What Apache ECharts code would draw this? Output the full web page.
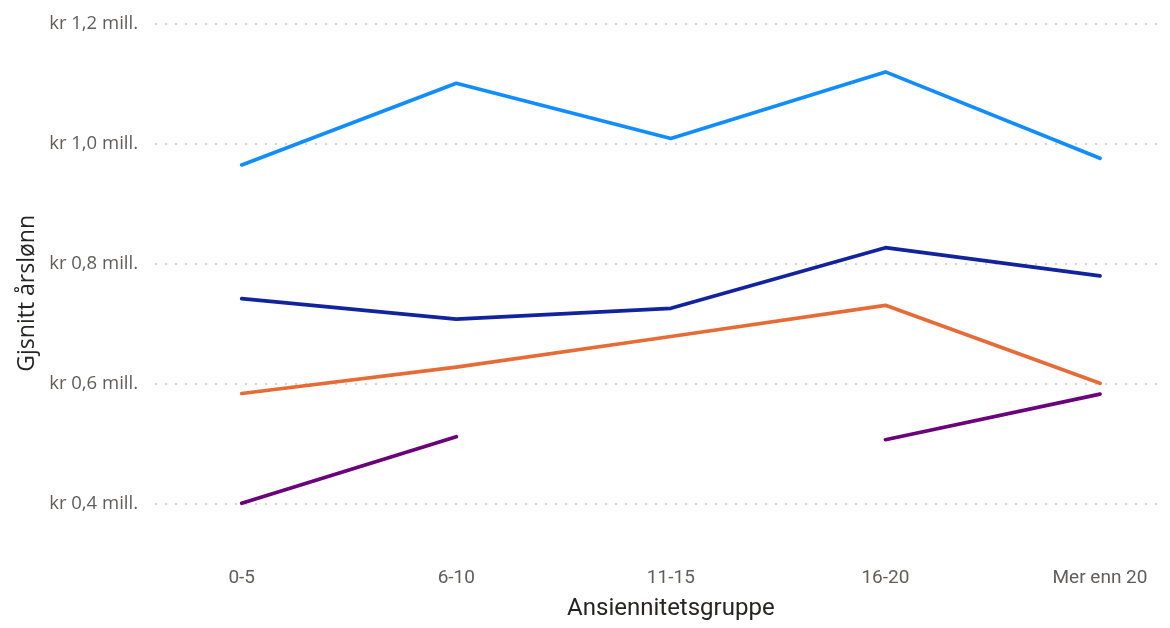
<!DOCTYPE html>
<html>
<head>
<meta charset="utf-8">
<title>Gjsnitt årslønn</title>
<script src="https://cdn.jsdelivr.net/npm/echarts@6/dist/echarts.min.js"></script>
<style>
  html, body { margin: 0; padding: 0; background: #fff; }
  #chart { width: 1170px; height: 628px; }
</style>
</head>
<body>
<div id="chart"></div>
<script>
// kategorier og verdier (mill. kr), lest av bildet
var categories = ['0-5', '6-10', '11-15', '16-20', 'Mer enn 20'];
var lysBla = [0.964, 1.100, 1.008, 1.119, 0.975];
var morkBla = [0.741, 0.707, 0.725, 0.826, 0.779];
var oransje = [0.583, 0.627, 0.678, 0.730, 0.600];
var lilla = [0.400, 0.511, null, 0.506, 0.582];
var yTicks = [0.4, 0.6, 0.8, 1.0, 1.2];

var labelColor = '#605E5C';
var titleColor = '#252423';

function krLabel(v) {
    return 'kr ' + v.toFixed(1).replace('.', ',') + ' mill.';
}

function lineSerie(name, data, color) {
    return {
        name: name,
        type: 'line',
        xAxisIndex: 1,
        yAxisIndex: 1,
        data: data,
        symbol: 'none',
        connectNulls: false,
        lineStyle: { width: 3.7, color: color, cap: 'round', join: 'round' },
        itemStyle: { color: color }
    };
}

var chart = echarts.init(document.getElementById('chart'));
var option = {
    animation: false,
    backgroundColor: '#ffffff',
    grid: [
        // bakgrunn: stiplede hjelpelinjer og y-etiketter
        { left: 155, right: 8, top: 23.3, bottom: 124.7 },
        // dataområde
        { left: 241.7, right: 70, top: 23.3, bottom: 64.7 }
    ],
    xAxis: [
        { gridIndex: 0, type: 'value', show: false },
        {
            gridIndex: 1,
            type: 'category',
            data: categories,
            boundaryGap: false,
            axisLine: { show: false },
            axisTick: { show: false },
            splitLine: { show: false },
            axisLabel: {
                color: labelColor,
                fontSize: 19,
                fontFamily: 'Roboto',
                margin: 5
            },
            name: 'Ansiennitetsgruppe',
            nameLocation: 'middle',
            nameGap: 34,
            nameTextStyle: { color: titleColor, fontSize: 24, fontFamily: 'Roboto' }
        }
    ],
    yAxis: [
        {
            gridIndex: 0,
            type: 'value',
            min: yTicks[0],
            max: yTicks[yTicks.length - 1],
            interval: 0.2,
            axisLine: { show: false },
            axisTick: { show: false },
            axisLabel: {
                color: labelColor,
                fontSize: 18.5,
                fontFamily: 'Open Sans',
                margin: 17,
                formatter: krLabel
            },
            splitLine: {
                show: true,
                lineStyle: { color: '#C8C6C4', width: 1.5, type: [2, 8] }
            }
        },
        {
            gridIndex: 1,
            type: 'value',
            min: 0.3,
            max: 1.2,
            axisLine: { show: false },
            axisTick: { show: false },
            axisLabel: { show: false },
            splitLine: { show: false },
            name: 'Gjsnitt årslønn',
            nameLocation: 'middle',
            nameGap: 203,
            nameTextStyle: { color: titleColor, fontSize: 23, fontFamily: 'Open Sans' }
        }
    ],
    series: [
        lineSerie('Serie 1', lysBla, '#118DFF'),
        lineSerie('Serie 2', morkBla, '#12239E'),
        lineSerie('Serie 3', oransje, '#E66C37'),
        lineSerie('Serie 4', lilla, '#6B007B')
    ]
};
chart.setOption(option);
</script>
</body>
</html>
